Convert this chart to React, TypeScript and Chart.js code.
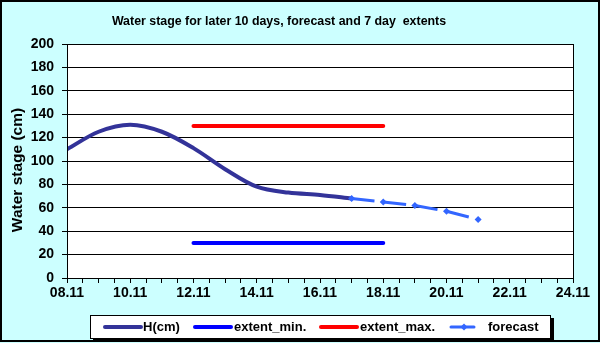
import React, { useEffect, useRef } from 'react';
import { Chart, registerables } from 'chart.js';

Chart.register(...registerables);

// ---- data ----
const hDates = ['08.11', '09.11', '10.11', '11.11', '12.11', '13.11', '14.11', '15.11', '16.11', '17.11'];
const hValues = [110, 125, 131, 125, 111, 93, 78, 73, 71, 68];
const extentDates = ['12.11', '18.11'];
const extentMinValues = [30, 30];
const extentMaxValues = [130, 130];
const forecastDates = ['17.11', '18.11', '19.11', '20.11', '21.11'];
const forecastValues = [68, 65, 62, 57, 50];
const xTickLabels = ['08.11', '10.11', '12.11', '14.11', '16.11', '18.11', '20.11', '22.11', '24.11'];
const yTickValues = [0, 20, 40, 60, 80, 100, 120, 140, 160, 180, 200];
const seriesLabels = ['H(cm)', 'extent_min.', 'extent_max.', 'forecast'];
const titleText = 'Water stage for later 10 days, forecast and 7 day  extents';
const yTitleText = 'Water stage (cm)';

const COLORS = {
  bg: '#CCFFFF',
  h: '#333399',
  min: '#0000FF',
  max: '#FF0000',
  fc: '#3366FF',
};
const FONT = '"Liberation Sans", Arial, sans-serif';

const dayOf = (s: string) => parseInt(s.slice(0, 2), 10);
const pts = (dates: string[], vals: number[]) => dates.map((d, i) => ({ x: dayOf(d), y: vals[i] }));

const decorPlugin = {
  id: 'decor',
  beforeDraw(chart: any) {
    const { ctx, chartArea: a, width, height } = chart;
    ctx.save();
    ctx.fillStyle = COLORS.bg;
    ctx.fillRect(0, 0, width, height);
    ctx.fillStyle = '#FFFFFF';
    ctx.fillRect(a.left, a.top, a.right - a.left, a.bottom - a.top);
    ctx.restore();
  },
  afterDraw(chart: any) {
    const { ctx, chartArea: a, width, height } = chart;
    ctx.save();
    // plot border
    ctx.strokeStyle = '#000';
    ctx.lineWidth = 1;
    ctx.strokeRect(Math.round(a.left) + 0.5, Math.round(a.top) + 0.5, Math.round(a.right - a.left), Math.round(a.bottom - a.top));
    // outer border
    ctx.lineWidth = 2;
    ctx.strokeRect(1, 1, width - 2, height - 3);
    // title
    ctx.fillStyle = '#000';
    ctx.font = `bold 12.4px ${FONT}`;
    ctx.textAlign = 'center';
    ctx.textBaseline = 'middle';
    ctx.fillText(titleText, 279, 22);
    // y axis title
    ctx.save();
    ctx.translate(18, 170);
    ctx.rotate(-Math.PI / 2);
    ctx.font = `bold 15.5px ${FONT}`;
    ctx.fillText(yTitleText, 0, 0);
    ctx.restore();

    // legend
    const lx = 90, ly = 315, lw = 461, lh = 24;
    ctx.fillStyle = '#000';
    ctx.fillRect(lx + 3, ly + 3, lw, lh);
    ctx.fillStyle = '#FFF';
    ctx.fillRect(lx, ly, lw, lh);
    ctx.lineWidth = 1;
    ctx.strokeStyle = '#000';
    ctx.strokeRect(lx + 0.5, ly + 0.5, lw - 1, lh - 1);
    const cy = ly + 12;
    const items = [
      { x0: 105, x1: 141, tx: 143, color: COLORS.h, w: 4, marker: false },
      { x0: 195, x1: 231, tx: 234, color: COLORS.min, w: 4, marker: false },
      { x0: 321, x1: 357, tx: 360, color: COLORS.max, w: 4, marker: false },
      { x0: 451, x1: 474, tx: 488, color: COLORS.fc, w: 3, marker: true },
    ];
    items.forEach((it, i) => {
      ctx.strokeStyle = it.color;
      ctx.lineWidth = it.w;
      ctx.lineCap = 'round';
      ctx.beginPath();
      ctx.moveTo(it.x0, cy);
      ctx.lineTo(it.x1, cy);
      ctx.stroke();
      if (it.marker) {
        const mx = 464;
        ctx.fillStyle = it.color;
        ctx.beginPath();
        ctx.moveTo(mx, cy - 3.5);
        ctx.lineTo(mx + 3.5, cy);
        ctx.lineTo(mx, cy + 3.5);
        ctx.lineTo(mx - 3.5, cy);
        ctx.closePath();
        ctx.fill();
      }
      ctx.fillStyle = '#000';
      ctx.font = `bold 13px ${FONT}`;
      ctx.textAlign = 'left';
      ctx.textBaseline = 'middle';
      ctx.fillText(seriesLabels[i], it.tx, cy);
    });
    ctx.restore();
  },
};

export default function App() {
  const ref = useRef<HTMLCanvasElement | null>(null);
  useEffect(() => {
    document.body.style.margin = '0';
    const canvas = ref.current!;
    const chart = new Chart(canvas, {
      type: 'line',
      data: {
        datasets: [
          {
            label: seriesLabels[0],
            data: pts(hDates, hValues),
            borderColor: COLORS.h,
            backgroundColor: COLORS.h,
            borderWidth: 4,
            tension: 0.33,
            pointRadius: 0,
            borderCapStyle: 'round',
            order: 2,
          },
          {
            label: seriesLabels[1],
            data: pts(extentDates, extentMinValues),
            borderColor: COLORS.min,
            backgroundColor: COLORS.min,
            borderWidth: 4,
            pointRadius: 0,
            borderCapStyle: 'round',
            order: 3,
          },
          {
            label: seriesLabels[2],
            data: pts(extentDates, extentMaxValues),
            borderColor: COLORS.max,
            backgroundColor: COLORS.max,
            borderWidth: 4,
            pointRadius: 0,
            borderCapStyle: 'round',
            order: 3,
          },
          {
            label: seriesLabels[3],
            data: pts(forecastDates, forecastValues),
            borderColor: COLORS.fc,
            backgroundColor: COLORS.fc,
            borderWidth: 3,
            borderDash: [23, 9],
            tension: 0,
            pointStyle: 'rectRot',
            pointRadius: 3.5,
            pointBorderWidth: 0,
            segment: {
              borderDashOffset: (c: any) => (c.p0DataIndex % 2 ? 0 : 0.0001),
            },
            order: 1,
          },
        ] as any,
      },
      options: {
        responsive: false,
        animation: false,
        devicePixelRatio: 1,
        layout: { padding: { left: 0, top: 44, right: 27, bottom: 35 } },
        plugins: { legend: { display: false }, title: { display: false }, tooltip: { enabled: false } },
        scales: {
          x: {
            type: 'linear',
            min: dayOf(xTickLabels[0]),
            max: dayOf(xTickLabels[xTickLabels.length - 1]),
            afterFit: (s: any) => { s.height = 30; },
            afterBuildTicks: (s: any) => {
              const t: any[] = [];
              for (let v = s.min; v <= s.max + 1e-9; v += 0.5) t.push({ value: v });
              s.ticks = t;
            },
            ticks: {
              autoSkip: false,
              maxRotation: 0,
              color: '#000',
              font: { family: FONT, size: 14, weight: 'bold' },
              padding: 2,
              callback: (v: any) => {
                const l = xTickLabels.find((x) => dayOf(x) === v);
                return l ?? '';
              },
            },
            grid: { drawOnChartArea: false, drawTicks: true, tickLength: 5, color: '#000' },
            border: { display: true, color: '#000', width: 1 },
          },
          y: {
            min: yTickValues[0],
            max: yTickValues[yTickValues.length - 1],
            afterFit: (s: any) => { s.width = 67; },
            afterBuildTicks: (s: any) => { s.ticks = yTickValues.map((v) => ({ value: v })); },
            ticks: {
              color: '#000',
              font: { family: FONT, size: 14, weight: 'bold' },
              padding: 8,
            },
            grid: { color: '#000', tickLength: 5, lineWidth: 1 },
            border: { display: true, color: '#000', width: 1 },
            title: { display: false },
          },
        },
      },
      plugins: [decorPlugin],
    } as any);
    return () => chart.destroy();
  }, []);
  return <canvas ref={ref} width={600} height={343} style={{ display: 'block', width: 600, height: 343 }} />;
}
